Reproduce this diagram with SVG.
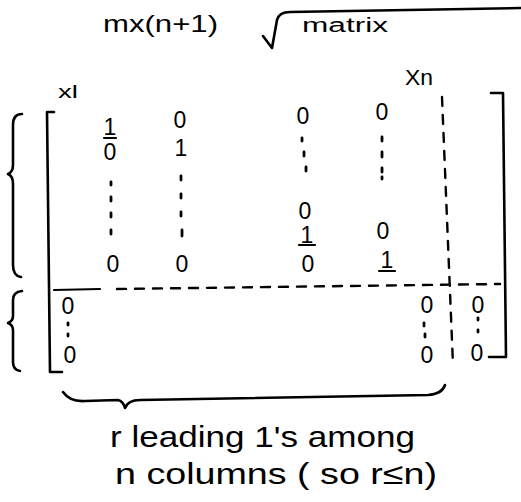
<svg xmlns="http://www.w3.org/2000/svg" width="521" height="502" viewBox="0 0 521 502">
<style>
.ink{fill:none;stroke:#000;stroke-width:2.6;stroke-linecap:round;stroke-linejoin:round}
.thin{fill:none;stroke:#000;stroke-width:2.2;stroke-linecap:round}
.dash{fill:none;stroke:#000;stroke-width:2.4;stroke-linecap:round;stroke-dasharray:9 9}
.dot{fill:none;stroke:#000;stroke-width:2.8;stroke-linecap:round}
text{font-family:"Liberation Sans","DejaVu Sans",sans-serif;fill:#000}
.d{font-size:23px;text-anchor:middle}
</style>
<rect width="521" height="502" fill="#fff"/>
<g id="title">
<text x="103" y="32" font-size="24" textLength="115" lengthAdjust="spacingAndGlyphs">mx(n+1)</text>
<path class="ink" d="M263,36 L272,48 L277,20 Q279,12 290,12 L521,8"/>
<text x="302" y="32" font-size="20" textLength="86" lengthAdjust="spacingAndGlyphs">matrix</text>
</g>
<g id="labels">
<text x="58" y="98" font-size="19" textLength="20" lengthAdjust="spacingAndGlyphs">xl</text>
<text x="405" y="85" font-size="22" textLength="28" lengthAdjust="spacingAndGlyphs">Xn</text>
</g>
<g id="brackets">
<path class="ink" d="M54,112 L47,112 L50,372 L62,372"/>
<path class="ink" d="M491,93 L503,93 L506,357 L489,357"/>
</g>
<g id="braces">
<path class="ink" d="M22,114 Q13,114 13,125 L13,165 Q13,172 8,174 Q13,176 13,184 L13,265 Q13,276 21,277"/>
<path class="ink" d="M22,291 Q13,292 13,300 L13,316 Q13,321 8,323 Q13,325 13,330 L13,362 Q13,370 20,371"/>
<path class="ink" d="M63,392 Q70,402 85,401 L118,400 Q123,401 125,408 Q128,400 140,400 L428,395 Q442,394 445,385"/>
</g>
<g id="partitions">
<path class="thin" d="M54,290 L100,289"/>
<path class="dash" d="M117,289 L500,284"/>
<path class="dash" d="M442,97 L453,365"/>
</g>
<g id="entries">
<text class="d" x="110" y="135" font-size="19">1</text>
<path class="thin" d="M104,138 L116,138"/>
<text class="d" x="110" y="160">0</text>
<path class="dot" d="M111,182 L111,185 M111,197 L111,201 M111,213 L111,217 M111,230 L111,234"/>
<text class="d" x="113" y="272" font-size="27">0</text>
<text class="d" x="180" y="128">0</text>
<text class="d" x="181" y="156">1</text>
<path class="dot" d="M181,176 L181,180 M181,194 L181,198 M181,212 L181,216 M182,230 L182,236"/>
<text class="d" x="182" y="272" font-size="27">0</text>
<text class="d" x="303" y="124">0</text>
<path class="dot" d="M302,138 L302,141 M304,152 L304,156 M306,167 L306,171"/>
<text class="d" x="305" y="219" font-size="26">0</text>
<text class="d" x="307" y="243">1</text>
<path class="thin" d="M299,245 L315,245"/>
<text class="d" x="308" y="272" font-size="27">0</text>
<text class="d" x="382" y="120">0</text>
<path class="dot" d="M382,137 L382,141 M382,152 L382,157 M382,168 L382,172 M382,177 L382,179"/>
<text class="d" x="383" y="239">0</text>
<text class="d" x="387" y="268">1</text>
<path class="thin" d="M379,271 L395,271"/>
<text class="d" x="68" y="314">0</text>
<path class="dot" d="M68,323 L68,325 M68,334 L68,336"/>
<text class="d" x="70" y="363">0</text>
<text class="d" x="427" y="313">0</text>
<path class="dot" d="M424,323 L424,326 M425,334 L425,337"/>
<text class="d" x="427" y="363">0</text>
<text class="d" x="478" y="313">0</text>
<path class="dot" d="M478,318 L478,320 M478,330 L478,332"/>
<text class="d" x="477" y="361">0</text>
</g>
<g id="caption">
<text x="110" y="447" font-size="30" textLength="305" lengthAdjust="spacingAndGlyphs">r leading 1's among</text>
<text x="115" y="484" font-size="30" textLength="322" lengthAdjust="spacingAndGlyphs">n columns ( so r≤n)</text>
</g>
</svg>
